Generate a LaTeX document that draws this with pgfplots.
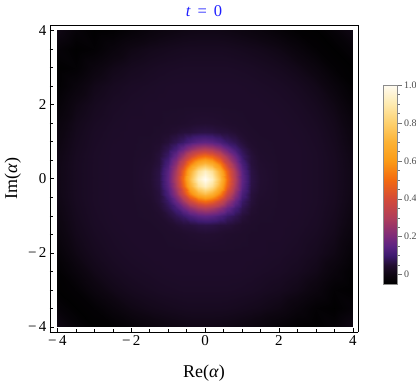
\documentclass[border=0pt]{standalone}
\usepackage{pgfplots}
\pgfplotsset{compat=1.18}
\usepackage{fontspec}
\setmainfont{Liberation Serif}
\begin{document}
\begin{tikzpicture}
\useasboundingbox (-50pt,-52pt) rectangle (366pt,332pt);
\begin{axis}[
  scale only axis, width=308pt, height=307pt,
  view={0}{90},
  xmin=-4.2, xmax=4.14, ymin=-4.135, ymax=4.148,
  axis on top,
  axis line style={black, line width=0.6pt},
  xtick={-4,-2,0,2,4}, ytick={-4,-2,0,2,4}, ztick=\empty,
  xticklabels={−\,4,−\,2,0,2,4}, yticklabels={−\,4,−\,2,0,2,4},
  minor x tick num=3, minor y tick num=3,
  tick align=inside, xtick pos=left, ytick pos=left,
  major tick length=4.5pt, minor tick length=2.7pt,
  tick style={black, line width=0.5pt},
  ticklabel style={font=\fontsize{15}{17}\selectfont},
  xlabel={Re(\textit{α})}, ylabel={Im(\textit{α})},
  label style={font=\fontsize{18}{20}\selectfont},
  xlabel style={at={(axis description cs:0.5,-0.1466)}, anchor=base},
  ylabel style={at={(axis description cs:-0.107,0.5)}, anchor=base},
  every axis title/.style={at={(axis description cs:0.5,1.027)}, anchor=base, inner sep=0pt},
  title={\fontsize{16.5}{18}\selectfont\color[rgb]{0.12,0.12,1}\textit{t}\kern0.42em=\kern0.42em0},
  colormap={sunset}{
    rgb255(0pt)=(0,0,0);
    rgb255(5pt)=(14,6,18);
    rgb255(10pt)=(34,14,48);
    rgb255(15pt)=(61,26,110);
    rgb255(20pt)=(92,36,130);
    rgb255(25pt)=(123,42,122);
    rgb255(35pt)=(176,62,90);
    rgb255(45pt)=(212,75,56);
    rgb255(55pt)=(243,106,16);
    rgb255(65pt)=(251,155,23);
    rgb255(75pt)=(252,178,53);
    rgb255(85pt)=(253,208,110);
    rgb255(95pt)=(254,234,176);
    rgb255(105pt)=(255,252,242)
  },
  point meta min=-0.05, point meta max=1,
  colorbar,
  colorbar style={
    at={(parent axis.north east)}, anchor=north west,
    xshift=17pt, yshift=-60pt,
    width=14pt, height=199pt,
    ytick={0,0.2,0.4,0.6,0.8,1},
    yticklabels={\fontsize{10}{11}\selectfont 0,\fontsize{10}{11}\selectfont 0.2,\fontsize{10}{11}\selectfont 0.4,\fontsize{10}{11}\selectfont 0.6,\fontsize{10}{11}\selectfont 0.8,\fontsize{10}{11}\selectfont 1.0},
    minor y tick num=3,
    ytick pos=right, yticklabel pos=right,
    tick align=outside,
    major tick length=4pt, minor tick length=2pt,
    yticklabel style={text=black!70, xshift=-1pt},
    axis line style={black!45},
    tick style={black!55},
  },
]
\addplot3[surf, shader=interp] table {
x y z
-4 -4 0.005
-3.5 -4 -0.028
-3 -4 -0.046
-2.5 -4 -0.042
-2 -4 -0.028
-1.5 -4 -0.013
-1.25 -4 -0.007
-1 -4 -0.003
-0.8 -4 0
-0.6 -4 0.003
-0.4 -4 0.005
-0.2 -4 0.006
0 -4 0.006
0.2 -4 0.006
0.4 -4 0.005
0.6 -4 0.003
0.8 -4 0
1 -4 -0.003
1.25 -4 -0.007
1.5 -4 -0.013
2 -4 -0.028
2.5 -4 -0.042
3 -4 -0.046
3.5 -4 -0.028
4 -4 0.005

-4 -3.5 -0.028
-3.5 -3.5 -0.046
-3 -3.5 -0.037
-2.5 -3.5 -0.015
-2 -3.5 0.004
-1.5 -3.5 0.014
-1.25 -3.5 0.017
-1 -3.5 0.020
-0.8 -3.5 0.022
-0.6 -3.5 0.024
-0.4 -3.5 0.025
-0.2 -3.5 0.025
0 -3.5 0.025
0.2 -3.5 0.025
0.4 -3.5 0.025
0.6 -3.5 0.024
0.8 -3.5 0.022
1 -3.5 0.020
1.25 -3.5 0.017
1.5 -3.5 0.014
2 -3.5 0.004
2.5 -3.5 -0.015
3 -3.5 -0.037
3.5 -3.5 -0.046
4 -3.5 -0.028

-4 -3 -0.046
-3.5 -3 -0.037
-3 -3 -0.010
-2.5 -3 0.010
-2 -3 0.021
-1.5 -3 0.028
-1.25 -3 0.031
-1 -3 0.033
-0.8 -3 0.034
-0.6 -3 0.035
-0.4 -3 0.035
-0.2 -3 0.035
0 -3 0.035
0.2 -3 0.035
0.4 -3 0.035
0.6 -3 0.035
0.8 -3 0.034
1 -3 0.033
1.25 -3 0.031
1.5 -3 0.028
2 -3 0.021
2.5 -3 0.010
3 -3 -0.010
3.5 -3 -0.037
4 -3 -0.046

-4 -2.5 -0.042
-3.5 -2.5 -0.015
-3 -2.5 0.010
-2.5 -2.5 0.024
-2 -2.5 0.032
-1.5 -2.5 0.036
-1.25 -2.5 0.038
-1 -2.5 0.039
-0.8 -2.5 0.040
-0.6 -2.5 0.040
-0.4 -2.5 0.040
-0.2 -2.5 0.040
0 -2.5 0.040
0.2 -2.5 0.040
0.4 -2.5 0.040
0.6 -2.5 0.040
0.8 -2.5 0.040
1 -2.5 0.039
1.25 -2.5 0.038
1.5 -2.5 0.036
2 -2.5 0.032
2.5 -2.5 0.024
3 -2.5 0.010
3.5 -2.5 -0.015
4 -2.5 -0.042

-4 -2 -0.028
-3.5 -2 0.004
-3 -2 0.021
-2.5 -2 0.032
-2 -2 0.037
-1.5 -2 0.040
-1.25 -2 0.040
-1 -2 0.040
-0.8 -2 0.040
-0.6 -2 0.040
-0.4 -2 0.040
-0.2 -2 0.040
0 -2 0.040
0.2 -2 0.040
0.4 -2 0.040
0.6 -2 0.040
0.8 -2 0.040
1 -2 0.040
1.25 -2 0.040
1.5 -2 0.040
2 -2 0.037
2.5 -2 0.032
3 -2 0.021
3.5 -2 0.004
4 -2 -0.028

-4 -1.5 -0.013
-3.5 -1.5 0.014
-3 -1.5 0.028
-2.5 -1.5 0.036
-2 -1.5 0.040
-1.5 -1.5 0.040
-1.25 -1.5 0.040
-1 -1.5 0.042
-0.8 -1.5 0.043
-0.6 -1.5 0.045
-0.4 -1.5 0.048
-0.2 -1.5 0.050
0 -1.5 0.051
0.2 -1.5 0.050
0.4 -1.5 0.048
0.6 -1.5 0.045
0.8 -1.5 0.043
1 -1.5 0.042
1.25 -1.5 0.040
1.5 -1.5 0.040
2 -1.5 0.040
2.5 -1.5 0.036
3 -1.5 0.028
3.5 -1.5 0.014
4 -1.5 -0.013

-4 -1.25 -0.007
-3.5 -1.25 0.017
-3 -1.25 0.031
-2.5 -1.25 0.038
-2 -1.25 0.040
-1.5 -1.25 0.040
-1.25 -1.25 0.042
-1 -1.25 0.046
-0.8 -1.25 0.052
-0.6 -1.25 0.058
-0.4 -1.25 0.060
-0.2 -1.25 0.066
0 -1.25 0.068
0.2 -1.25 0.066
0.4 -1.25 0.060
0.6 -1.25 0.058
0.8 -1.25 0.052
1 -1.25 0.046
1.25 -1.25 0.042
1.5 -1.25 0.040
2 -1.25 0.040
2.5 -1.25 0.038
3 -1.25 0.031
3.5 -1.25 0.017
4 -1.25 -0.007

-4 -1 -0.003
-3.5 -1 0.020
-3 -1 0.033
-2.5 -1 0.039
-2 -1 0.040
-1.5 -1 0.042
-1.25 -1 0.046
-1 -1 0.058
-0.8 -1 0.076
-0.6 -1 0.094
-0.4 -1 0.122
-0.2 -1 0.146
0 -1 0.155
0.2 -1 0.146
0.4 -1 0.122
0.6 -1 0.094
0.8 -1 0.076
1 -1 0.058
1.25 -1 0.046
1.5 -1 0.042
2 -1 0.040
2.5 -1 0.039
3 -1 0.033
3.5 -1 0.020
4 -1 -0.003

-4 -0.8 0
-3.5 -0.8 0.022
-3 -0.8 0.034
-2.5 -0.8 0.040
-2 -0.8 0.040
-1.5 -0.8 0.043
-1.25 -0.8 0.052
-1 -0.8 0.076
-0.8 -0.8 0.114
-0.6 -0.8 0.170
-0.4 -0.8 0.234
-0.2 -0.8 0.286
0 -0.8 0.307
0.2 -0.8 0.286
0.4 -0.8 0.234
0.6 -0.8 0.170
0.8 -0.8 0.114
1 -0.8 0.076
1.25 -0.8 0.052
1.5 -0.8 0.043
2 -0.8 0.040
2.5 -0.8 0.040
3 -0.8 0.034
3.5 -0.8 0.022
4 -0.8 0

-4 -0.6 0.003
-3.5 -0.6 0.024
-3 -0.6 0.035
-2.5 -0.6 0.040
-2 -0.6 0.040
-1.5 -0.6 0.045
-1.25 -0.6 0.058
-1 -0.6 0.094
-0.8 -0.6 0.170
-0.6 -0.6 0.268
-0.4 -0.6 0.379
-0.2 -0.6 0.471
0 -0.6 0.507
0.2 -0.6 0.471
0.4 -0.6 0.379
0.6 -0.6 0.268
0.8 -0.6 0.170
1 -0.6 0.094
1.25 -0.6 0.058
1.5 -0.6 0.045
2 -0.6 0.040
2.5 -0.6 0.040
3 -0.6 0.035
3.5 -0.6 0.024
4 -0.6 0.003

-4 -0.4 0.005
-3.5 -0.4 0.025
-3 -0.4 0.035
-2.5 -0.4 0.040
-2 -0.4 0.040
-1.5 -0.4 0.048
-1.25 -0.4 0.060
-1 -0.4 0.122
-0.8 -0.4 0.234
-0.6 -0.4 0.379
-0.4 -0.4 0.546
-0.2 -0.4 0.683
0 -0.4 0.737
0.2 -0.4 0.683
0.4 -0.4 0.546
0.6 -0.4 0.379
0.8 -0.4 0.234
1 -0.4 0.122
1.25 -0.4 0.060
1.5 -0.4 0.048
2 -0.4 0.040
2.5 -0.4 0.040
3 -0.4 0.035
3.5 -0.4 0.025
4 -0.4 0.005

-4 -0.2 0.006
-3.5 -0.2 0.025
-3 -0.2 0.035
-2.5 -0.2 0.040
-2 -0.2 0.040
-1.5 -0.2 0.050
-1.25 -0.2 0.066
-1 -0.2 0.146
-0.8 -0.2 0.286
-0.6 -0.2 0.471
-0.4 -0.2 0.683
-0.2 -0.2 0.858
0 -0.2 0.926
0.2 -0.2 0.858
0.4 -0.2 0.683
0.6 -0.2 0.471
0.8 -0.2 0.286
1 -0.2 0.146
1.25 -0.2 0.066
1.5 -0.2 0.050
2 -0.2 0.040
2.5 -0.2 0.040
3 -0.2 0.035
3.5 -0.2 0.025
4 -0.2 0.006

-4 0 0.006
-3.5 0 0.025
-3 0 0.035
-2.5 0 0.040
-2 0 0.040
-1.5 0 0.051
-1.25 0 0.068
-1 0 0.155
-0.8 0 0.307
-0.6 0 0.507
-0.4 0 0.737
-0.2 0 0.926
0 0 1.000
0.2 0 0.926
0.4 0 0.737
0.6 0 0.507
0.8 0 0.307
1 0 0.155
1.25 0 0.068
1.5 0 0.051
2 0 0.040
2.5 0 0.040
3 0 0.035
3.5 0 0.025
4 0 0.006

-4 0.2 0.006
-3.5 0.2 0.025
-3 0.2 0.035
-2.5 0.2 0.040
-2 0.2 0.040
-1.5 0.2 0.050
-1.25 0.2 0.066
-1 0.2 0.146
-0.8 0.2 0.286
-0.6 0.2 0.471
-0.4 0.2 0.683
-0.2 0.2 0.858
0 0.2 0.926
0.2 0.2 0.858
0.4 0.2 0.683
0.6 0.2 0.471
0.8 0.2 0.286
1 0.2 0.146
1.25 0.2 0.066
1.5 0.2 0.050
2 0.2 0.040
2.5 0.2 0.040
3 0.2 0.035
3.5 0.2 0.025
4 0.2 0.006

-4 0.4 0.005
-3.5 0.4 0.025
-3 0.4 0.035
-2.5 0.4 0.040
-2 0.4 0.040
-1.5 0.4 0.048
-1.25 0.4 0.060
-1 0.4 0.122
-0.8 0.4 0.234
-0.6 0.4 0.379
-0.4 0.4 0.546
-0.2 0.4 0.683
0 0.4 0.737
0.2 0.4 0.683
0.4 0.4 0.546
0.6 0.4 0.379
0.8 0.4 0.234
1 0.4 0.122
1.25 0.4 0.060
1.5 0.4 0.048
2 0.4 0.040
2.5 0.4 0.040
3 0.4 0.035
3.5 0.4 0.025
4 0.4 0.005

-4 0.6 0.003
-3.5 0.6 0.024
-3 0.6 0.035
-2.5 0.6 0.040
-2 0.6 0.040
-1.5 0.6 0.045
-1.25 0.6 0.058
-1 0.6 0.094
-0.8 0.6 0.170
-0.6 0.6 0.268
-0.4 0.6 0.379
-0.2 0.6 0.471
0 0.6 0.507
0.2 0.6 0.471
0.4 0.6 0.379
0.6 0.6 0.268
0.8 0.6 0.170
1 0.6 0.094
1.25 0.6 0.058
1.5 0.6 0.045
2 0.6 0.040
2.5 0.6 0.040
3 0.6 0.035
3.5 0.6 0.024
4 0.6 0.003

-4 0.8 0
-3.5 0.8 0.022
-3 0.8 0.034
-2.5 0.8 0.040
-2 0.8 0.040
-1.5 0.8 0.043
-1.25 0.8 0.052
-1 0.8 0.076
-0.8 0.8 0.114
-0.6 0.8 0.170
-0.4 0.8 0.234
-0.2 0.8 0.286
0 0.8 0.307
0.2 0.8 0.286
0.4 0.8 0.234
0.6 0.8 0.170
0.8 0.8 0.114
1 0.8 0.076
1.25 0.8 0.052
1.5 0.8 0.043
2 0.8 0.040
2.5 0.8 0.040
3 0.8 0.034
3.5 0.8 0.022
4 0.8 0

-4 1 -0.003
-3.5 1 0.020
-3 1 0.033
-2.5 1 0.039
-2 1 0.040
-1.5 1 0.042
-1.25 1 0.046
-1 1 0.058
-0.8 1 0.076
-0.6 1 0.094
-0.4 1 0.122
-0.2 1 0.146
0 1 0.155
0.2 1 0.146
0.4 1 0.122
0.6 1 0.094
0.8 1 0.076
1 1 0.058
1.25 1 0.046
1.5 1 0.042
2 1 0.040
2.5 1 0.039
3 1 0.033
3.5 1 0.020
4 1 -0.003

-4 1.25 -0.007
-3.5 1.25 0.017
-3 1.25 0.031
-2.5 1.25 0.038
-2 1.25 0.040
-1.5 1.25 0.040
-1.25 1.25 0.042
-1 1.25 0.046
-0.8 1.25 0.052
-0.6 1.25 0.058
-0.4 1.25 0.060
-0.2 1.25 0.066
0 1.25 0.068
0.2 1.25 0.066
0.4 1.25 0.060
0.6 1.25 0.058
0.8 1.25 0.052
1 1.25 0.046
1.25 1.25 0.042
1.5 1.25 0.040
2 1.25 0.040
2.5 1.25 0.038
3 1.25 0.031
3.5 1.25 0.017
4 1.25 -0.007

-4 1.5 -0.013
-3.5 1.5 0.014
-3 1.5 0.028
-2.5 1.5 0.036
-2 1.5 0.040
-1.5 1.5 0.040
-1.25 1.5 0.040
-1 1.5 0.042
-0.8 1.5 0.043
-0.6 1.5 0.045
-0.4 1.5 0.048
-0.2 1.5 0.050
0 1.5 0.051
0.2 1.5 0.050
0.4 1.5 0.048
0.6 1.5 0.045
0.8 1.5 0.043
1 1.5 0.042
1.25 1.5 0.040
1.5 1.5 0.040
2 1.5 0.040
2.5 1.5 0.036
3 1.5 0.028
3.5 1.5 0.014
4 1.5 -0.013

-4 2 -0.028
-3.5 2 0.004
-3 2 0.021
-2.5 2 0.032
-2 2 0.037
-1.5 2 0.040
-1.25 2 0.040
-1 2 0.040
-0.8 2 0.040
-0.6 2 0.040
-0.4 2 0.040
-0.2 2 0.040
0 2 0.040
0.2 2 0.040
0.4 2 0.040
0.6 2 0.040
0.8 2 0.040
1 2 0.040
1.25 2 0.040
1.5 2 0.040
2 2 0.037
2.5 2 0.032
3 2 0.021
3.5 2 0.004
4 2 -0.028

-4 2.5 -0.042
-3.5 2.5 -0.015
-3 2.5 0.010
-2.5 2.5 0.024
-2 2.5 0.032
-1.5 2.5 0.036
-1.25 2.5 0.038
-1 2.5 0.039
-0.8 2.5 0.040
-0.6 2.5 0.040
-0.4 2.5 0.040
-0.2 2.5 0.040
0 2.5 0.040
0.2 2.5 0.040
0.4 2.5 0.040
0.6 2.5 0.040
0.8 2.5 0.040
1 2.5 0.039
1.25 2.5 0.038
1.5 2.5 0.036
2 2.5 0.032
2.5 2.5 0.024
3 2.5 0.010
3.5 2.5 -0.015
4 2.5 -0.042

-4 3 -0.046
-3.5 3 -0.037
-3 3 -0.010
-2.5 3 0.010
-2 3 0.021
-1.5 3 0.028
-1.25 3 0.031
-1 3 0.033
-0.8 3 0.034
-0.6 3 0.035
-0.4 3 0.035
-0.2 3 0.035
0 3 0.035
0.2 3 0.035
0.4 3 0.035
0.6 3 0.035
0.8 3 0.034
1 3 0.033
1.25 3 0.031
1.5 3 0.028
2 3 0.021
2.5 3 0.010
3 3 -0.010
3.5 3 -0.037
4 3 -0.046

-4 3.5 -0.028
-3.5 3.5 -0.046
-3 3.5 -0.037
-2.5 3.5 -0.015
-2 3.5 0.004
-1.5 3.5 0.014
-1.25 3.5 0.017
-1 3.5 0.020
-0.8 3.5 0.022
-0.6 3.5 0.024
-0.4 3.5 0.025
-0.2 3.5 0.025
0 3.5 0.025
0.2 3.5 0.025
0.4 3.5 0.025
0.6 3.5 0.024
0.8 3.5 0.022
1 3.5 0.020
1.25 3.5 0.017
1.5 3.5 0.014
2 3.5 0.004
2.5 3.5 -0.015
3 3.5 -0.037
3.5 3.5 -0.046
4 3.5 -0.028

-4 4 0.005
-3.5 4 -0.028
-3 4 -0.046
-2.5 4 -0.042
-2 4 -0.028
-1.5 4 -0.013
-1.25 4 -0.007
-1 4 -0.003
-0.8 4 0
-0.6 4 0.003
-0.4 4 0.005
-0.2 4 0.006
0 4 0.006
0.2 4 0.006
0.4 4 0.005
0.6 4 0.003
0.8 4 0
1 4 -0.003
1.25 4 -0.007
1.5 4 -0.013
2 4 -0.028
2.5 4 -0.042
3 4 -0.046
3.5 4 -0.028
4 4 0.005
};
\end{axis}
\end{tikzpicture}
\end{document}
